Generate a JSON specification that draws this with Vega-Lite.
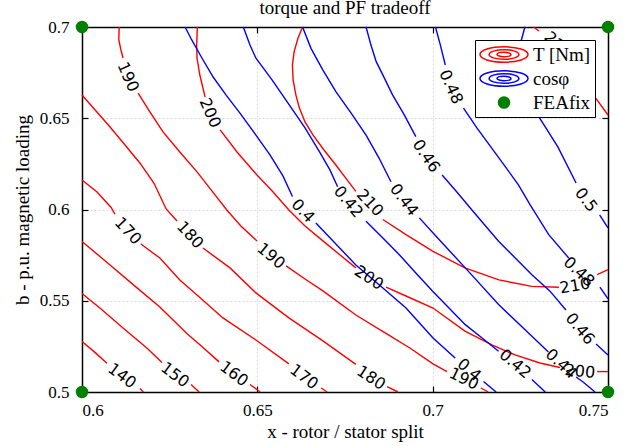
{
  "$schema": "https://vega.github.io/schema/vega-lite/v6.json",
  "autosize": "none",
  "width": 526,
  "height": 365,
  "padding": {"left": 82, "top": 27, "right": 29, "bottom": 54},
  "background": "white",
  "title": {"text": "torque and PF tradeoff", "font": "Liberation Serif", "fontSize": 19, "fontWeight": "normal", "color": "black", "offset": 0},
  "config": {
    "view": {"stroke": null},
    "axis": {"domainColor": "black", "domainWidth": 1.5, "tickColor": "black", "tickWidth": 1.2, "labelFont": "Liberation Serif", "labelFontSize": 17, "labelColor": "black", "titleFont": "Liberation Serif", "titleFontSize": 19, "titleFontWeight": "normal", "titleColor": "black", "gridColor": "#cfcfcf", "gridDash": [2, 2], "gridWidth": 0.8, "zindex": 0},
    "text": {"font": "DejaVu Sans", "fontSize": 16, "color": "black", "align": "center", "baseline": "middle"},
    "legend": {"orient": "top-right", "offset": 13, "fillColor": "white", "strokeColor": "black", "padding": 4, "symbolSize": 2304, "clipHeight": 21, "rowPadding": 3, "labelFont": "Liberation Serif", "labelFontSize": 19, "labelColor": "black", "labelOffset": 4, "symbolStrokeWidth": 1.5, "cornerRadius": 0}
  },
  "encoding": {
    "x": {"field": "x", "type": "quantitative", "scale": {"domain": [0.6, 0.75], "nice": false, "zero": false}, "axis": null},
    "y": {"field": "y", "type": "quantitative", "scale": {"domain": [0.5, 0.7], "nice": false, "zero": false}, "axis": null}
  },
  "resolve": {"axis": {"x": "independent", "y": "independent"}},
  "layer": [
    {
      "data": {"values": [
        {"s": "r140a", "i": 0, "x": 0.6, "y": 0.5277}, {"s": "r140a", "i": 1, "x": 0.6037, "y": 0.5217}, {"s": "r140a", "i": 2, "x": 0.6071, "y": 0.5157},
        {"s": "r140b", "i": 0, "x": 0.6165, "y": 0.5019}, {"s": "r140b", "i": 1, "x": 0.6175, "y": 0.5},
        {"s": "r150a", "i": 0, "x": 0.6, "y": 0.554}, {"s": "r150a", "i": 1, "x": 0.6051, "y": 0.546}, {"s": "r150a", "i": 2, "x": 0.6117, "y": 0.5351}, {"s": "r150a", "i": 3, "x": 0.6185, "y": 0.5241}, {"s": "r150a", "i": 4, "x": 0.6228, "y": 0.5162},
        {"s": "r150b", "i": 0, "x": 0.6311, "y": 0.5041}, {"s": "r150b", "i": 1, "x": 0.6334, "y": 0.5},
        {"s": "r160a", "i": 0, "x": 0.6, "y": 0.5825}, {"s": "r160a", "i": 1, "x": 0.608, "y": 0.5696}, {"s": "r160a", "i": 2, "x": 0.6151, "y": 0.558}, {"s": "r160a", "i": 3, "x": 0.6222, "y": 0.5466}, {"s": "r160a", "i": 4, "x": 0.6299, "y": 0.532}, {"s": "r160a", "i": 5, "x": 0.6337, "y": 0.5258}, {"s": "r160a", "i": 6, "x": 0.6391, "y": 0.5165},
        {"s": "r160b", "i": 0, "x": 0.6479, "y": 0.5041}, {"s": "r160b", "i": 1, "x": 0.6508, "y": 0.5},
        {"s": "r170a", "i": 0, "x": 0.6, "y": 0.6162}, {"s": "r170a", "i": 1, "x": 0.6043, "y": 0.6096}, {"s": "r170a", "i": 2, "x": 0.6083, "y": 0.6011}, {"s": "r170a", "i": 3, "x": 0.6094, "y": 0.5975},
        {"s": "r170b", "i": 0, "x": 0.6168, "y": 0.5811}, {"s": "r170b", "i": 1, "x": 0.6222, "y": 0.5734}, {"s": "r170b", "i": 2, "x": 0.6279, "y": 0.5614}, {"s": "r170b", "i": 3, "x": 0.6328, "y": 0.5532}, {"s": "r170b", "i": 4, "x": 0.6402, "y": 0.5406}, {"s": "r170b", "i": 5, "x": 0.6496, "y": 0.5285}, {"s": "r170b", "i": 6, "x": 0.659, "y": 0.5154},
        {"s": "r170c", "i": 0, "x": 0.6682, "y": 0.5022}, {"s": "r170c", "i": 1, "x": 0.6699, "y": 0.5},
        {"s": "r180a", "i": 0, "x": 0.6, "y": 0.6627}, {"s": "r180a", "i": 1, "x": 0.604, "y": 0.654}, {"s": "r180a", "i": 2, "x": 0.608, "y": 0.6452}, {"s": "r180a", "i": 3, "x": 0.6125, "y": 0.6348}, {"s": "r180a", "i": 4, "x": 0.6165, "y": 0.6255}, {"s": "r180a", "i": 5, "x": 0.6205, "y": 0.6145}, {"s": "r180a", "i": 6, "x": 0.624, "y": 0.6003}, {"s": "r180a", "i": 7, "x": 0.6271, "y": 0.5937},
        {"s": "r180b", "i": 0, "x": 0.6345, "y": 0.5789}, {"s": "r180b", "i": 1, "x": 0.6422, "y": 0.568}, {"s": "r180b", "i": 2, "x": 0.6496, "y": 0.5543}, {"s": "r180b", "i": 3, "x": 0.659, "y": 0.5406}, {"s": "r180b", "i": 4, "x": 0.6687, "y": 0.528}, {"s": "r180b", "i": 5, "x": 0.6781, "y": 0.5151},
        {"s": "r180c", "i": 0, "x": 0.687, "y": 0.503}, {"s": "r180c", "i": 1, "x": 0.6901, "y": 0.5},
        {"s": "r190a", "i": 0, "x": 0.6106, "y": 0.7}, {"s": "r190a", "i": 1, "x": 0.6105, "y": 0.6929}, {"s": "r190a", "i": 2, "x": 0.6111, "y": 0.6874}, {"s": "r190a", "i": 3, "x": 0.6117, "y": 0.683},
        {"s": "r190b", "i": 0, "x": 0.616, "y": 0.6638}, {"s": "r190b", "i": 1, "x": 0.6194, "y": 0.6534}, {"s": "r190b", "i": 2, "x": 0.6231, "y": 0.6425}, {"s": "r190b", "i": 3, "x": 0.6279, "y": 0.6315}, {"s": "r190b", "i": 4, "x": 0.6328, "y": 0.6206}, {"s": "r190b", "i": 5, "x": 0.6371, "y": 0.6101}, {"s": "r190b", "i": 6, "x": 0.6413, "y": 0.5997}, {"s": "r190b", "i": 7, "x": 0.6453, "y": 0.591}, {"s": "r190b", "i": 8, "x": 0.6499, "y": 0.5828},
        {"s": "r190c", "i": 0, "x": 0.6582, "y": 0.5691}, {"s": "r190c", "i": 1, "x": 0.6636, "y": 0.5619}, {"s": "r190c", "i": 2, "x": 0.6687, "y": 0.5554}, {"s": "r190c", "i": 3, "x": 0.6781, "y": 0.5422}, {"s": "r190c", "i": 4, "x": 0.6875, "y": 0.5312}, {"s": "r190c", "i": 5, "x": 0.6935, "y": 0.5241}, {"s": "r190c", "i": 6, "x": 0.7001, "y": 0.5154}, {"s": "r190c", "i": 7, "x": 0.7041, "y": 0.5112},
        {"s": "r190d", "i": 0, "x": 0.7138, "y": 0.5022}, {"s": "r190d", "i": 1, "x": 0.7158, "y": 0.5},
        {"s": "r200a", "i": 0, "x": 0.6329, "y": 0.7}, {"s": "r200a", "i": 1, "x": 0.6327, "y": 0.6901}, {"s": "r200a", "i": 2, "x": 0.6328, "y": 0.683}, {"s": "r200a", "i": 3, "x": 0.6336, "y": 0.6737}, {"s": "r200a", "i": 4, "x": 0.6351, "y": 0.6616},
        {"s": "r200b", "i": 0, "x": 0.6394, "y": 0.6436}, {"s": "r200b", "i": 1, "x": 0.6442, "y": 0.6315}, {"s": "r200b", "i": 2, "x": 0.6499, "y": 0.6189}, {"s": "r200b", "i": 3, "x": 0.6545, "y": 0.6096}, {"s": "r200b", "i": 4, "x": 0.659, "y": 0.5997}, {"s": "r200b", "i": 5, "x": 0.6636, "y": 0.591}, {"s": "r200b", "i": 6, "x": 0.6687, "y": 0.5828}, {"s": "r200b", "i": 7, "x": 0.6736, "y": 0.5751}, {"s": "r200b", "i": 8, "x": 0.6781, "y": 0.568},
        {"s": "r200c", "i": 0, "x": 0.6867, "y": 0.5575}, {"s": "r200c", "i": 1, "x": 0.6924, "y": 0.5526}, {"s": "r200c", "i": 2, "x": 0.7001, "y": 0.546}, {"s": "r200c", "i": 3, "x": 0.7092, "y": 0.5334}, {"s": "r200c", "i": 4, "x": 0.7169, "y": 0.5258}, {"s": "r200c", "i": 5, "x": 0.7235, "y": 0.5203}, {"s": "r200c", "i": 6, "x": 0.7306, "y": 0.5159}, {"s": "r200c", "i": 7, "x": 0.7363, "y": 0.5134},
        {"s": "r200d", "i": 0, "x": 0.7469, "y": 0.5112}, {"s": "r200d", "i": 1, "x": 0.75, "y": 0.5112},
        {"s": "r210a", "i": 0, "x": 0.6629, "y": 0.7}, {"s": "r210a", "i": 1, "x": 0.6616, "y": 0.694}, {"s": "r210a", "i": 2, "x": 0.6605, "y": 0.6865}, {"s": "r210a", "i": 3, "x": 0.66, "y": 0.6792}, {"s": "r210a", "i": 4, "x": 0.6602, "y": 0.671}, {"s": "r210a", "i": 5, "x": 0.661, "y": 0.6627}, {"s": "r210a", "i": 6, "x": 0.662, "y": 0.6556}, {"s": "r210a", "i": 7, "x": 0.6636, "y": 0.648}, {"s": "r210a", "i": 8, "x": 0.6659, "y": 0.6408}, {"s": "r210a", "i": 9, "x": 0.669, "y": 0.6326}, {"s": "r210a", "i": 10, "x": 0.6724, "y": 0.6244}, {"s": "r210a", "i": 11, "x": 0.6756, "y": 0.6162}, {"s": "r210a", "i": 12, "x": 0.6781, "y": 0.6099},
        {"s": "r210b", "i": 0, "x": 0.6858, "y": 0.5945}, {"s": "r210b", "i": 1, "x": 0.6924, "y": 0.5862}, {"s": "r210b", "i": 2, "x": 0.7001, "y": 0.5771}, {"s": "r210b", "i": 3, "x": 0.7092, "y": 0.568}, {"s": "r210b", "i": 4, "x": 0.7189, "y": 0.5614}, {"s": "r210b", "i": 5, "x": 0.7283, "y": 0.5579}, {"s": "r210b", "i": 6, "x": 0.736, "y": 0.5574},
        {"s": "r210c", "i": 0, "x": 0.7469, "y": 0.5643}, {"s": "r210c", "i": 1, "x": 0.75, "y": 0.567},
        {"s": "r220a", "i": 0, "x": 0.7288, "y": 0.7}, {"s": "r220a", "i": 1, "x": 0.7303, "y": 0.6978},
        {"s": "r220b", "i": 0, "x": 0.7372, "y": 0.6825}, {"s": "r220b", "i": 1, "x": 0.742, "y": 0.6715}, {"s": "r220b", "i": 2, "x": 0.7463, "y": 0.6616}, {"s": "r220b", "i": 3, "x": 0.75, "y": 0.6518}
      ]},
      "mark": {"type": "line", "color": "#ff0000", "strokeWidth": 1.4},
      "encoding": {
        "x": {"field": "x", "type": "quantitative", "scale": {"domain": [0.6, 0.75], "nice": false, "zero": false}, "axis": {"orient": "top", "values": [0.6, 0.65, 0.7, 0.75], "labels": false, "title": null, "grid": false, "tickSize": -6}},
        "y": {"field": "y", "type": "quantitative", "scale": {"domain": [0.5, 0.7], "nice": false, "zero": false}, "axis": {"orient": "right", "values": [0.5, 0.55, 0.6, 0.65, 0.7], "labels": false, "title": null, "grid": false, "tickSize": -6}},
        "detail": {"field": "s"},
        "order": {"field": "i"}
      }
    },
    {
      "data": {"values": [
        {"s": "b40a", "i": 0, "x": 0.6294, "y": 0.7}, {"s": "b40a", "i": 1, "x": 0.6313, "y": 0.6929}, {"s": "b40a", "i": 2, "x": 0.6342, "y": 0.683}, {"s": "b40a", "i": 3, "x": 0.6374, "y": 0.6726}, {"s": "b40a", "i": 4, "x": 0.6411, "y": 0.6627}, {"s": "b40a", "i": 5, "x": 0.6451, "y": 0.6527}, {"s": "b40a", "i": 6, "x": 0.6496, "y": 0.6408}, {"s": "b40a", "i": 7, "x": 0.6536, "y": 0.6299}, {"s": "b40a", "i": 8, "x": 0.6573, "y": 0.6184}, {"s": "b40a", "i": 9, "x": 0.66, "y": 0.6071},
        {"s": "b40b", "i": 0, "x": 0.6667, "y": 0.5926}, {"s": "b40b", "i": 1, "x": 0.6724, "y": 0.5811}, {"s": "b40b", "i": 2, "x": 0.6781, "y": 0.5696}, {"s": "b40b", "i": 3, "x": 0.6858, "y": 0.557}, {"s": "b40b", "i": 4, "x": 0.6924, "y": 0.546}, {"s": "b40b", "i": 5, "x": 0.7001, "y": 0.5296}, {"s": "b40b", "i": 6, "x": 0.7064, "y": 0.5186},
        {"s": "b40c", "i": 0, "x": 0.7145, "y": 0.5058}, {"s": "b40c", "i": 1, "x": 0.7181, "y": 0.5},
        {"s": "b42a", "i": 0, "x": 0.646, "y": 0.7}, {"s": "b42a", "i": 1, "x": 0.6479, "y": 0.6901}, {"s": "b42a", "i": 2, "x": 0.6496, "y": 0.6829}, {"s": "b42a", "i": 3, "x": 0.6542, "y": 0.671}, {"s": "b42a", "i": 4, "x": 0.6591, "y": 0.6573}, {"s": "b42a", "i": 5, "x": 0.6636, "y": 0.6447}, {"s": "b42a", "i": 6, "x": 0.6677, "y": 0.6317}, {"s": "b42a", "i": 7, "x": 0.6707, "y": 0.6217}, {"s": "b42a", "i": 8, "x": 0.6729, "y": 0.6125},
        {"s": "b42b", "i": 0, "x": 0.681, "y": 0.5935}, {"s": "b42b", "i": 1, "x": 0.6858, "y": 0.5844}, {"s": "b42b", "i": 2, "x": 0.6905, "y": 0.5752}, {"s": "b42b", "i": 3, "x": 0.6952, "y": 0.5652}, {"s": "b42b", "i": 4, "x": 0.7, "y": 0.5552}, {"s": "b42b", "i": 5, "x": 0.7093, "y": 0.5369}, {"s": "b42b", "i": 6, "x": 0.7141, "y": 0.5296}, {"s": "b42b", "i": 7, "x": 0.7188, "y": 0.5223},
        {"s": "b42c", "i": 0, "x": 0.7283, "y": 0.5068}, {"s": "b42c", "i": 1, "x": 0.7321, "y": 0.5},
        {"s": "b44a", "i": 0, "x": 0.6629, "y": 0.7}, {"s": "b44a", "i": 1, "x": 0.6653, "y": 0.6883}, {"s": "b44a", "i": 2, "x": 0.6687, "y": 0.6764}, {"s": "b44a", "i": 3, "x": 0.6724, "y": 0.6646}, {"s": "b44a", "i": 4, "x": 0.6767, "y": 0.6529}, {"s": "b44a", "i": 5, "x": 0.681, "y": 0.6408}, {"s": "b44a", "i": 6, "x": 0.6847, "y": 0.6282}, {"s": "b44a", "i": 7, "x": 0.6881, "y": 0.6152},
        {"s": "b44b", "i": 0, "x": 0.6962, "y": 0.5954}, {"s": "b44b", "i": 1, "x": 0.7009, "y": 0.5855}, {"s": "b44b", "i": 2, "x": 0.7093, "y": 0.568}, {"s": "b44b", "i": 3, "x": 0.7188, "y": 0.5479}, {"s": "b44b", "i": 4, "x": 0.7283, "y": 0.5305}, {"s": "b44b", "i": 5, "x": 0.733, "y": 0.5219},
        {"s": "b44c", "i": 0, "x": 0.7409, "y": 0.5082}, {"s": "b44c", "i": 1, "x": 0.7429, "y": 0.5055}, {"s": "b44c", "i": 2, "x": 0.7463, "y": 0.5},
        {"s": "b46a", "i": 0, "x": 0.681, "y": 0.7}, {"s": "b46a", "i": 1, "x": 0.6824, "y": 0.6901}, {"s": "b46a", "i": 2, "x": 0.6839, "y": 0.681}, {"s": "b46a", "i": 3, "x": 0.6862, "y": 0.6721}, {"s": "b46a", "i": 4, "x": 0.6886, "y": 0.6627}, {"s": "b46a", "i": 5, "x": 0.6919, "y": 0.6518}, {"s": "b46a", "i": 6, "x": 0.6952, "y": 0.6399},
        {"s": "b46b", "i": 0, "x": 0.7027, "y": 0.6189}, {"s": "b46b", "i": 1, "x": 0.7069, "y": 0.6096}, {"s": "b46b", "i": 2, "x": 0.7112, "y": 0.5997}, {"s": "b46b", "i": 3, "x": 0.7188, "y": 0.5826}, {"s": "b46b", "i": 4, "x": 0.7283, "y": 0.5643}, {"s": "b46b", "i": 5, "x": 0.7334, "y": 0.5554}, {"s": "b46b", "i": 6, "x": 0.738, "y": 0.5449},
        {"s": "b46c", "i": 0, "x": 0.7466, "y": 0.5263}, {"s": "b46c", "i": 1, "x": 0.75, "y": 0.5203},
        {"s": "b48a", "i": 0, "x": 0.7008, "y": 0.7}, {"s": "b48a", "i": 1, "x": 0.7022, "y": 0.6901}, {"s": "b48a", "i": 2, "x": 0.7036, "y": 0.6792},
        {"s": "b48b", "i": 0, "x": 0.7088, "y": 0.6555}, {"s": "b48b", "i": 1, "x": 0.7126, "y": 0.6447}, {"s": "b48b", "i": 2, "x": 0.7169, "y": 0.6335}, {"s": "b48b", "i": 3, "x": 0.7206, "y": 0.6238}, {"s": "b48b", "i": 4, "x": 0.7245, "y": 0.6134}, {"s": "b48b", "i": 5, "x": 0.7278, "y": 0.6025}, {"s": "b48b", "i": 6, "x": 0.7331, "y": 0.5862}, {"s": "b48b", "i": 7, "x": 0.7388, "y": 0.5734},
        {"s": "b48c", "i": 0, "x": 0.7477, "y": 0.5575}, {"s": "b48c", "i": 1, "x": 0.75, "y": 0.551},
        {"s": "b50a", "i": 0, "x": 0.7263, "y": 0.7}, {"s": "b50a", "i": 1, "x": 0.7253, "y": 0.6929}, {"s": "b50a", "i": 2, "x": 0.7252, "y": 0.6847}, {"s": "b50a", "i": 3, "x": 0.726, "y": 0.6737}, {"s": "b50a", "i": 4, "x": 0.7278, "y": 0.6616}, {"s": "b50a", "i": 5, "x": 0.7303, "y": 0.6507}, {"s": "b50a", "i": 6, "x": 0.7357, "y": 0.6343}, {"s": "b50a", "i": 7, "x": 0.7409, "y": 0.6145},
        {"s": "b50b", "i": 0, "x": 0.7476, "y": 0.597}, {"s": "b50b", "i": 1, "x": 0.75, "y": 0.5899}
      ]},
      "mark": {"type": "line", "color": "#0000ff", "strokeWidth": 1.4},
      "encoding": {"detail": {"field": "s"}, "order": {"field": "i"}}
    },
    {"data": {"values": [{"t": "200", "x": 0.742, "y": 0.5112}]}, "mark": {"type": "text", "angle": 6}, "encoding": {"text": {"field": "t"}}},
    {"data": {"values": [{"t": "210", "x": 0.7406, "y": 0.5581}]}, "mark": {"type": "text", "angle": -10}, "encoding": {"text": {"field": "t"}}},
    {"data": {"values": [{"t": "190", "x": 0.7089, "y": 0.5071}]}, "mark": {"type": "text", "angle": 26}, "encoding": {"text": {"field": "t"}}},
    {"data": {"values": [{"t": "180", "x": 0.6824, "y": 0.5077}, {"t": "200", "x": 0.6818, "y": 0.5625}]}, "mark": {"type": "text", "angle": 33}, "encoding": {"text": {"field": "t"}}},
    {"data": {"values": [{"t": "140", "x": 0.6114, "y": 0.5088}, {"t": "150", "x": 0.6265, "y": 0.5093}, {"t": "160", "x": 0.6433, "y": 0.5099}, {"t": "170", "x": 0.6633, "y": 0.5082}]}, "mark": {"type": "text", "angle": 37}, "encoding": {"text": {"field": "t"}}},
    {"data": {"values": [{"t": "0.4", "x": 0.7104, "y": 0.5121}, {"t": "0.42", "x": 0.7235, "y": 0.5154}, {"t": "190", "x": 0.6539, "y": 0.5745}]}, "mark": {"type": "text", "angle": 40}, "encoding": {"text": {"field": "t"}}},
    {"data": {"values": [{"t": "0.44", "x": 0.7366, "y": 0.5154}, {"t": "0.48", "x": 0.7417, "y": 0.5658}, {"t": "220", "x": 0.7357, "y": 0.6901}]}, "mark": {"type": "text", "angle": 43}, "encoding": {"text": {"field": "t"}}},
    {"data": {"values": [{"t": "170", "x": 0.6131, "y": 0.5882}, {"t": "180", "x": 0.6308, "y": 0.586}, {"t": "210", "x": 0.6821, "y": 0.6036}, {"t": "0.4", "x": 0.663, "y": 0.5992}]}, "mark": {"type": "text", "angle": 47}, "encoding": {"text": {"field": "t"}}},
    {"data": {"values": [{"t": "0.42", "x": 0.6759, "y": 0.6041}, {"t": "0.46", "x": 0.742, "y": 0.5345}]}, "mark": {"type": "text", "angle": 50}, "encoding": {"text": {"field": "t"}}},
    {"data": {"values": [{"t": "0.44", "x": 0.6918, "y": 0.6052}, {"t": "0.5", "x": 0.7437, "y": 0.6052}]}, "mark": {"type": "text", "angle": 53}, "encoding": {"text": {"field": "t"}}},
    {"data": {"values": [{"t": "0.46", "x": 0.6981, "y": 0.6293}]}, "mark": {"type": "text", "angle": 56}, "encoding": {"text": {"field": "t"}}},
    {"data": {"values": [{"t": "190", "x": 0.6131, "y": 0.6726}, {"t": "200", "x": 0.6365, "y": 0.6529}, {"t": "0.48", "x": 0.7052, "y": 0.6671}]}, "mark": {"type": "text", "angle": 66}, "encoding": {"text": {"field": "t"}}},
    {
      "data": {"values": [
        {"series": "FEAfix", "x": 0.6, "y": 0.5}, {"series": "FEAfix", "x": 0.6, "y": 0.7}, {"series": "FEAfix", "x": 0.75, "y": 0.5}, {"series": "FEAfix", "x": 0.75, "y": 0.7}
      ]},
      "mark": {"type": "point", "size": 2304, "strokeWidth": 1.4, "opacity": 1, "clip": false},
      "encoding": {
        "x": {"field": "x", "type": "quantitative", "scale": {"domain": [0.6, 0.75], "nice": false, "zero": false}, "axis": {"orient": "bottom", "values": [0.6, 0.65, 0.7, 0.75], "format": ".2~f", "title": "x - rotor / stator split", "grid": true, "tickSize": -6, "labelPadding": 16, "titlePadding": 4}},
        "y": {"field": "y", "type": "quantitative", "scale": {"domain": [0.5, 0.7], "nice": false, "zero": false}, "axis": {"orient": "left", "values": [0.5, 0.55, 0.6, 0.65, 0.7], "format": ".2~f", "title": "b - p.u. magnetic loading", "grid": true, "tickSize": -6, "labelPadding": 19, "titlePadding": 7}},
        "stroke": {"field": "series", "type": "nominal", "title": null, "scale": {"domain": ["T [Nm]", "cosφ", "FEAfix"], "range": ["#ff0000", "#0000ff", "#008000"]}, "legend": {"encode": {"labels": {"update": {"fontStyle": {"signal": "datum.label === 'cosφ' ? 'italic' : 'normal'"}}}}}},
        "fill": {"field": "series", "type": "nominal", "title": null, "scale": {"domain": ["T [Nm]", "cosφ", "FEAfix"], "range": ["transparent", "transparent", "#008000"]}},
        "shape": {"field": "series", "type": "nominal", "title": null, "scale": {"domain": ["T [Nm]", "cosφ", "FEAfix"], "range": ["M-1,0A1,0.32 0 1,0 1,0A1,0.32 0 1,0 -1,0ZM-0.62,0A0.62,0.2 0 1,0 0.62,0A0.62,0.2 0 1,0 -0.62,0ZM-0.29,0A0.29,0.09 0 1,0 0.29,0A0.29,0.09 0 1,0 -0.29,0Z", "M-1,0A1,0.32 0 1,0 1,0A1,0.32 0 1,0 -1,0ZM-0.62,0A0.62,0.2 0 1,0 0.62,0A0.62,0.2 0 1,0 -0.62,0ZM-0.29,0A0.29,0.09 0 1,0 0.29,0A0.29,0.09 0 1,0 -0.29,0Z", "M-0.23,0A0.23,0.23 0 1,0 0.23,0A0.23,0.23 0 1,0 -0.23,0Z"]}}
      }
    }
  ]
}
